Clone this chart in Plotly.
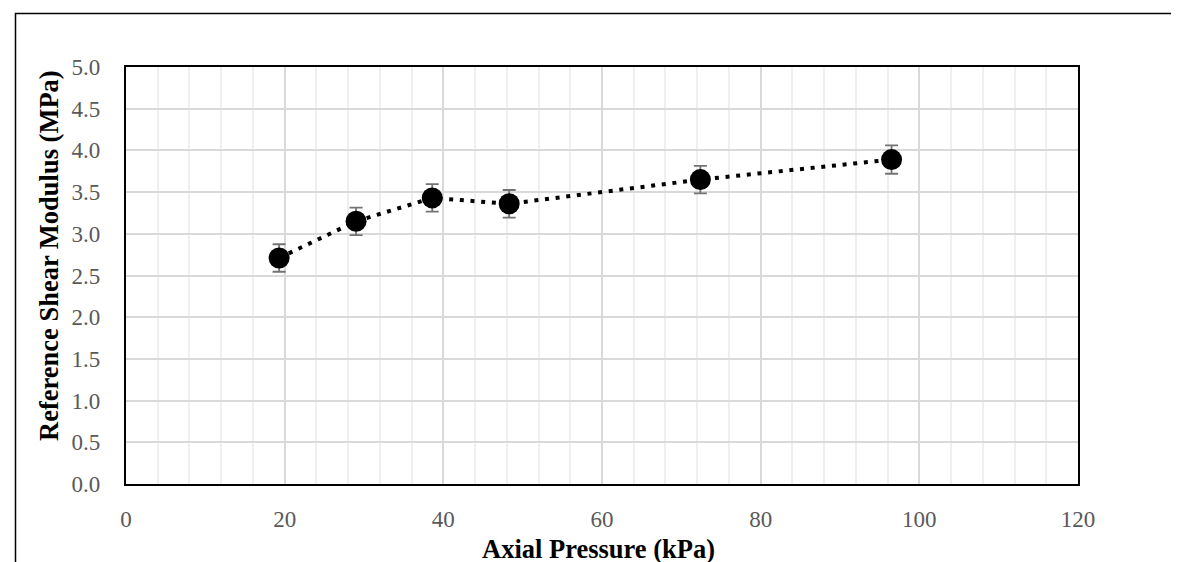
import plotly.graph_objects as go

# Data
axial_pressure_kpa = [19.3, 29.0, 38.6, 48.3, 72.4, 96.5]
shear_modulus_mpa = [2.71, 3.15, 3.43, 3.36, 3.65, 3.89]
error_mpa = [0.165, 0.165, 0.165, 0.165, 0.165, 0.17]

x_title = "Axial Pressure (kPa)"
y_title = "Reference Shear Modulus (MPa)"

W, H = 1179, 562
L, R, T, B = 118, 109, 59, 86
pw, ph = W - L - R, H - T - B

def px(p):
    return (p - L) / pw

def py(q):
    return (H - B - q) / ph

fig = go.Figure()
fig.add_trace(go.Scatter(
    x=axial_pressure_kpa, y=shear_modulus_mpa,
    mode="lines+markers",
    line=dict(color="black", width=4, dash="4px,6.7px"),
    marker=dict(color="black", size=21, symbol="circle"),
    error_y=dict(type="data", array=error_mpa, visible=True,
                 color="#737373", thickness=1.8, width=6.5),
    showlegend=False,
))

tickfont = dict(family="Liberation Serif, Times New Roman, serif", size=23, color="#595959")
fig.update_layout(
    width=W, height=H,
    margin=dict(l=L, r=R, t=T, b=B),
    paper_bgcolor="white", plot_bgcolor="white",
    xaxis=dict(range=[0, 120], dtick=20, tick0=0, showgrid=True,
               gridcolor="#d9d9d9", gridwidth=1.5,
               minor=dict(dtick=4, showgrid=True, gridcolor="#efefef", gridwidth=1.5),
               showline=True, linecolor="black", linewidth=2.2, mirror=True,
               zeroline=False, ticks="", tickfont=tickfont, ticklabelstandoff=13),
    yaxis=dict(range=[0, 5], dtick=0.5, tick0=0, tickformat=".1f", showgrid=True,
               gridcolor="#d9d9d9", gridwidth=1.5,
               showline=True, linecolor="black", linewidth=2.2, mirror=True,
               zeroline=False, ticks="", tickfont=tickfont, ticklabelstandoff=19),
)

titlefont = dict(family="Liberation Serif, Times New Roman, serif", size=26.5, color="black")
fig.add_annotation(text="<b>" + x_title + "</b>", x=px(590), y=py(541),
                   xref="paper", yref="paper", showarrow=False,
                   xanchor="center", yanchor="middle", font=titlefont)
fig.add_annotation(text="<b>" + y_title + "</b>", x=px(41), y=py(248),
                   xref="paper", yref="paper", showarrow=False, textangle=-90,
                   xanchor="center", yanchor="middle", font=titlefont)

# outer chart frame (open at bottom, extends past the page)
x0, x1 = px(7.5), px(1173.5)
y0, y1 = py(575), py(5.5)
fig.add_shape(type="path", xref="paper", yref="paper",
              path=f"M {x0} {y0} L {x0} {y1} L {x1} {y1} L {x1} {y0}",
              line=dict(color="black", width=1.5))

fig.write_html("out.html")
